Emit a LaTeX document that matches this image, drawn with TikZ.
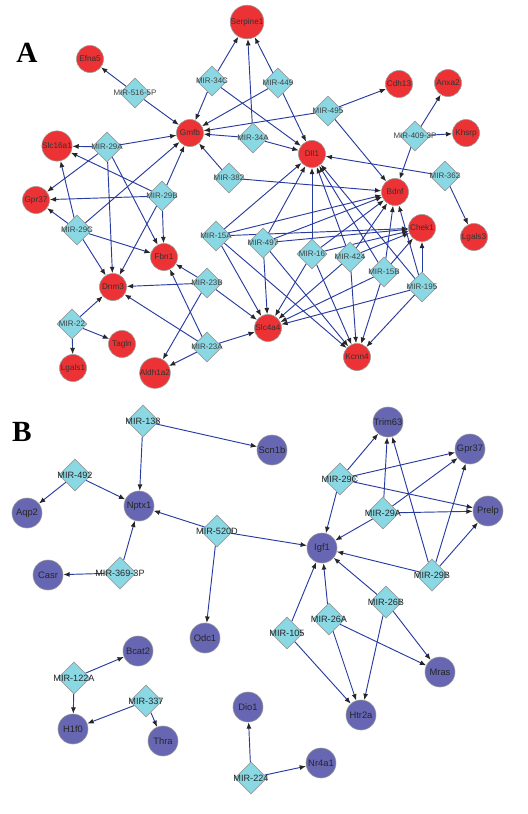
\documentclass[tikz,border=0pt]{standalone}
\usepackage{fontspec}
\setmainfont{Liberation Sans}
\newfontfamily\panelfont{Liberation Serif}
\usetikzlibrary{arrows.meta, shapes.geometric}
\pgfdeclarelayer{bg}
\pgfsetlayers{bg,main}
\definecolor{genered}{RGB}{236,50,52}
\definecolor{geneblue}{RGB}{102,102,178}
\definecolor{mircyan}{RGB}{138,216,228}
\definecolor{edgeblue}{RGB}{40,60,160}

\begin{document}
\begin{tikzpicture}[
    x=0.3mm, y=-0.3mm,
    gene/.style={circle, draw=gray!80, line width=0.5pt, inner sep=0pt, minimum size=8.1mm, text=black!80, font=\fontsize{7}{8}\selectfont},
    geneA/.style={gene, fill=genered},
    geneB/.style={gene, fill=geneblue, minimum size=9mm, text=black!85, font=\fontsize{8}{9}\selectfont},
    mlabelA/.style={inner sep=0pt, text=black!75, font=\fontsize{6.8}{8}\selectfont},
    mlabelB/.style={inner sep=0pt, text=black!85, font=\fontsize{7.8}{9}\selectfont},
    mirA/.style={diamond, draw=gray!80, line width=0.5pt, fill=mircyan, inner sep=0pt, minimum size=9mm, label={[mlabelA]center:#1}},
    mirB/.style={mirA=, minimum size=9.6mm, label={[mlabelB]center:#1}},
    panel/.style={font=\panelfont\bfseries\fontsize{25}{25}\selectfont},
    arrow/.style={-{Latex[length=1.9mm, width=1.5mm, color=black!85]}, line width=0.8pt, edgeblue}
]
    \useasboundingbox (0,0) rectangle (528,814);

    % Teil A: Zielgene
    \node[panel] (labA) at (27,53) {A};
    \node[geneA] (serpine1) at (247,22) {Serpine1};
    \node[geneA] (efna5) at (90,59) {Efna5};
    \node[geneA] (gmfb) at (190,133) {Gmfb};
    \node[geneA] (slc16a1) at (57,146) {Slc16a1};
    \node[geneA] (cdh13) at (399,84) {Cdh13};
    \node[geneA] (anxa2) at (448,83) {Anxa2};
    \node[geneA] (khsrp) at (466,133) {Khsrp};
    \node[geneA] (dll1) at (312,154) {Dll1};
    \node[geneA] (bdnf) at (395,192) {Bdnf};
    \node[geneA] (gpr37) at (36,200) {Gpr37};
    \node[geneA] (chek1) at (422,228) {Chek1};
    \node[geneA] (lgals3) at (474,237) {Lgals3};
    \node[geneA] (fbn1) at (164,257) {Fbn1};
    \node[geneA] (dnm3) at (113,287) {Dnm3};
    \node[geneA] (slc4a4) at (268,328) {Slc4a4};
    \node[geneA] (tagln) at (122,344) {Tagln};
    \node[geneA] (kcnn4) at (357,357) {Kcnn4};
    \node[geneA] (lgals1) at (73,368) {Lgals1};
    \node[geneA] (aldh1a2) at (155,373) {Aldh1a2};

    % Teil A: miRNAs
    \node[mirA=MIR-516-5P] (mir516) at (135,93) {};
    \node[mirA=MIR-34C] (mir34c) at (212,81) {};
    \node[mirA=MIR-449] (mir449) at (278,83) {};
    \node[mirA=MIR-495] (mir495) at (328,111) {};
    \node[mirA=MIR-34A] (mir34a) at (253,138) {};
    \node[mirA=MIR-409-3P] (mir409) at (415,136) {};
    \node[mirA=MIR-29A] (mir29a) at (107,147) {};
    \node[mirA=MIR-382] (mir382) at (229,178) {};
    \node[mirA=MIR-362] (mir362) at (445,176) {};
    \node[mirA=MIR-29B] (mir29b) at (162,196) {};
    \node[mirA=MIR-29C] (mir29c) at (77,230) {};
    \node[mirA=MIR-15A] (mir15a) at (216,236) {};
    \node[mirA=MIR-497] (mir497) at (263,243) {};
    \node[mirA=MIR-16] (mir16) at (312,254) {};
    \node[mirA=MIR-424] (mir424) at (350,257) {};
    \node[mirA=MIR-15B] (mir15b) at (384,272) {};
    \node[mirA=MIR-195] (mir195) at (422,287) {};
    \node[mirA=MIR-23B] (mir23b) at (207,283) {};
    \node[mirA=MIR-22] (mir22) at (72,324) {};
    \node[mirA=MIR-23A] (mir23a) at (207,347) {};

    % Teil B: Zielgene
    \node[panel] (labB) at (22,432) {B};
    \node[geneB] (scn1b) at (272,450) {Scn1b};
    \node[geneB] (aqp2) at (27,513) {Aqp2};
    \node[geneB] (nptx1) at (139,506) {Nptx1};
    \node[geneB] (casr) at (48,575) {Casr};
    \node[geneB] (trim63) at (388,422) {Trim63};
    \node[geneB] (gpr37b) at (470,449) {Gpr37};
    \node[geneB] (prelp) at (488,511) {Prelp};
    \node[geneB] (igf1) at (322,548) {Igf1};
    \node[geneB] (odc1) at (205,638) {Odc1};
    \node[geneB] (bcat2) at (138,651) {Bcat2};
    \node[geneB] (h1f0) at (73,729) {H1f0};
    \node[geneB] (thra) at (163,741) {Thra};
    \node[geneB] (dio1) at (248,707) {Dio1};
    \node[geneB] (mras) at (440,672) {Mras};
    \node[geneB] (htr2a) at (361,715) {Htr2a};
    \node[geneB] (nr4a1) at (321,763) {Nr4a1};

    % Teil B: miRNAs
    \node[mirB=MIR-138] (mir138) at (143,421) {};
    \node[mirB=MIR-492] (mir492) at (75,475) {};
    \node[mirB=MIR-520D] (mir520d) at (217,531) {};
    \node[mirB=MIR-369-3P] (mir369) at (120,573) {};
    \node[mirB=MIR-29C] (mir29cb) at (340,479) {};
    \node[mirB=MIR-29A] (mir29ab) at (383,513) {};
    \node[mirB=MIR-29B] (mir29bb) at (432,575) {};
    \node[mirB=MIR-26B] (mir26b) at (386,602) {};
    \node[mirB=MIR-26A] (mir26a) at (329,619) {};
    \node[mirB=MIR-105] (mir105) at (287,633) {};
    \node[mirB=MIR-122A] (mir122a) at (74,678) {};
    \node[mirB=MIR-337] (mir337) at (146,701) {};
    \node[mirB=MIR-224] (mir224) at (251,778) {};

    \begin{pgfonlayer}{bg}
    % Pfeile A: obere Gruppe
    \draw[arrow] (mir516) -- (efna5);
    \draw[arrow] (mir516) -- (gmfb);
    \draw[arrow] (mir34c) -- (serpine1);
    \draw[arrow] (mir34c) -- (gmfb);
    \draw[arrow] (mir34c) -- (dll1);
    \draw[arrow] (mir449) -- (serpine1);
    \draw[arrow] (mir449) -- (gmfb);
    \draw[arrow] (mir449) -- (dll1);
    \draw[arrow] (mir34a) -- (serpine1);
    \draw[arrow] (mir34a) -- (gmfb);
    \draw[arrow] (mir34a) -- (dll1);
    \draw[arrow] (mir495) -- (cdh13);
    \draw[arrow] (mir495) -- (gmfb);
    \draw[arrow] (mir495) -- (bdnf);
    \draw[arrow] (mir409) -- (anxa2);
    \draw[arrow] (mir409) -- (khsrp);
    \draw[arrow] (mir409) -- (bdnf);
    \draw[arrow] (mir362) -- (dll1);
    \draw[arrow] (mir362) -- (lgals3);
    \draw[arrow] (mir382) -- (gmfb);
    \draw[arrow] (mir382) -- (bdnf);

    % Pfeile A: miR-29-Familie
    \draw[arrow] (mir29a) -- (slc16a1);
    \draw[arrow] (mir29a) -- (gmfb);
    \draw[arrow] (mir29a) -- (gpr37);
    \draw[arrow] (mir29a) -- (dnm3);
    \draw[arrow] (mir29a) -- (fbn1);
    \draw[arrow] (mir29b) -- (slc16a1);
    \draw[arrow] (mir29b) -- (gmfb);
    \draw[arrow] (mir29b) -- (gpr37);
    \draw[arrow] (mir29b) -- (fbn1);
    \draw[arrow] (mir29b) -- (dnm3);
    \draw[arrow] (mir29c) -- (slc16a1);
    \draw[arrow] (mir29c) -- (gmfb);
    \draw[arrow] (mir29c) -- (gpr37);
    \draw[arrow] (mir29c) -- (fbn1);
    \draw[arrow] (mir29c) -- (dnm3);

    % Pfeile A: miR-15/16-Familie
    \draw[arrow] (mir15a) -- (dll1);
    \draw[arrow] (mir15a) -- (bdnf);
    \draw[arrow] (mir15a) -- (chek1);
    \draw[arrow] (mir15a) -- (slc4a4);
    \draw[arrow] (mir15a) -- (kcnn4);
    \draw[arrow] (mir497) -- (dll1);
    \draw[arrow] (mir497) -- (bdnf);
    \draw[arrow] (mir497) -- (chek1);
    \draw[arrow] (mir497) -- (slc4a4);
    \draw[arrow] (mir497) -- (kcnn4);
    \draw[arrow] (mir16) -- (dll1);
    \draw[arrow] (mir16) -- (bdnf);
    \draw[arrow] (mir16) -- (chek1);
    \draw[arrow] (mir16) -- (slc4a4);
    \draw[arrow] (mir16) -- (kcnn4);
    \draw[arrow] (mir424) -- (dll1);
    \draw[arrow] (mir424) -- (bdnf);
    \draw[arrow] (mir424) -- (chek1);
    \draw[arrow] (mir424) -- (slc4a4);
    \draw[arrow] (mir424) -- (kcnn4);
    \draw[arrow] (mir15b) -- (dll1);
    \draw[arrow] (mir15b) -- (bdnf);
    \draw[arrow] (mir15b) -- (chek1);
    \draw[arrow] (mir15b) -- (slc4a4);
    \draw[arrow] (mir15b) -- (kcnn4);
    \draw[arrow] (mir195) -- (dll1);
    \draw[arrow] (mir195) -- (bdnf);
    \draw[arrow] (mir195) -- (chek1);
    \draw[arrow] (mir195) -- (slc4a4);
    \draw[arrow] (mir195) -- (kcnn4);

    % Pfeile A: untere Gruppe
    \draw[arrow] (mir23b) -- (fbn1);
    \draw[arrow] (mir23b) -- (dnm3);
    \draw[arrow] (mir23b) -- (slc4a4);
    \draw[arrow] (mir23b) -- (aldh1a2);
    \draw[arrow] (mir23a) -- (fbn1);
    \draw[arrow] (mir23a) -- (dnm3);
    \draw[arrow] (mir23a) -- (slc4a4);
    \draw[arrow] (mir23a) -- (aldh1a2);
    \draw[arrow] (mir22) -- (dnm3);
    \draw[arrow] (mir22) -- (tagln);
    \draw[arrow] (mir22) -- (lgals1);

    % Pfeile B
    \draw[arrow] (mir138) -- (nptx1);
    \draw[arrow] (mir138) -- (scn1b);
    \draw[arrow] (mir492) -- (aqp2);
    \draw[arrow] (mir492) -- (nptx1);
    \draw[arrow] (mir520d) -- (nptx1);
    \draw[arrow] (mir520d) -- (igf1);
    \draw[arrow] (mir520d) -- (odc1);
    \draw[arrow] (mir369) -- (casr);
    \draw[arrow] (mir369) -- (nptx1);
    \draw[arrow] (mir29cb) -- (trim63);
    \draw[arrow] (mir29cb) -- (gpr37b);
    \draw[arrow] (mir29cb) -- (prelp);
    \draw[arrow] (mir29cb) -- (igf1);
    \draw[arrow] (mir29ab) -- (trim63);
    \draw[arrow] (mir29ab) -- (gpr37b);
    \draw[arrow] (mir29ab) -- (prelp);
    \draw[arrow] (mir29ab) -- (igf1);
    \draw[arrow] (mir29bb) -- (trim63);
    \draw[arrow] (mir29bb) -- (gpr37b);
    \draw[arrow] (mir29bb) -- (prelp);
    \draw[arrow] (mir29bb) -- (igf1);
    \draw[arrow] (mir26b) -- (igf1);
    \draw[arrow] (mir26b) -- (mras);
    \draw[arrow] (mir26b) -- (htr2a);
    \draw[arrow] (mir26a) -- (igf1);
    \draw[arrow] (mir26a) -- (mras);
    \draw[arrow] (mir26a) -- (htr2a);
    \draw[arrow] (mir105) -- (igf1);
    \draw[arrow] (mir105) -- (htr2a);
    \draw[arrow] (mir122a) -- (bcat2);
    \draw[arrow] (mir122a) -- (h1f0);
    \draw[arrow] (mir337) -- (h1f0);
    \draw[arrow] (mir337) -- (thra);
    \draw[arrow] (mir224) -- (dio1);
    \draw[arrow] (mir224) -- (nr4a1);
    \end{pgfonlayer}
\end{tikzpicture}
\end{document}
